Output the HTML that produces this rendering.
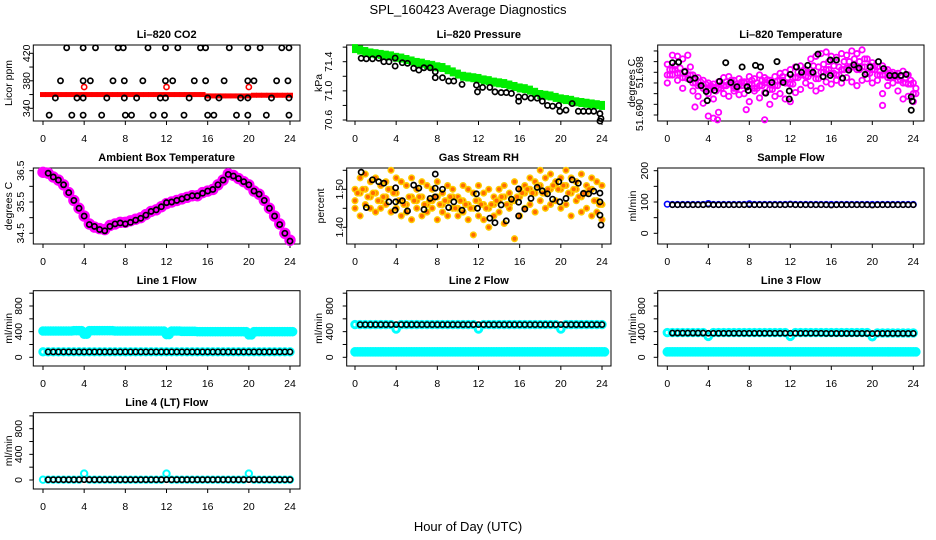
<!DOCTYPE html>
<html><head><meta charset="utf-8"><style>
html,body{margin:0;padding:0;background:#fff;}
svg{display:block;font-family:"Liberation Sans",Arial,sans-serif;}
.t{font-size:11px;font-weight:bold;text-anchor:middle;}
.tk{font-size:10.5px;text-anchor:middle;}
</style></head><body>
<svg id="chart" width="936" height="540" viewBox="0 0 936 540">
<rect x="0" y="0" width="936" height="540" fill="#fff"/>
<text x="468" y="14" font-size="13" text-anchor="middle">SPL_160423  Average Diagnostics</text>
<text x="468" y="531" font-size="13" text-anchor="middle">Hour of Day (UTC)</text>
</svg>
<script>
const hourTicks=[0,4,8,12,16,20,24];
const halfHours=[0,0.5,1,1.5,2,2.5,3,3.5,4,4.5,5,5.5,6,6.5,7,7.5,8,8.5,9,9.5,10,10.5,11,11.5,12,12.5,13,13.5,14,14.5,15,15.5,16,16.5,17,17.5,18,18.5,19,19.5,20,20.5,21,21.5,22,22.5,23,23.5,24];

// CO2
const co2Ticks=[340,360,380,400,420];
const co2Labels=["340","","380","","420"];
const co2RedVals=[360,360,360,360,360,360,360,360,360,360,360,360,360,360,360,360,360,360,360,360,360,360,360,360,360,360,360,360,360,360,360,360,358,358,358,358,358,358,358,358,358,359,359,359,359,359,359,359,359];
const co2RedOutHours=[4,12,20];
const co2RedOutVals=[371,371,371];
const co2BlackHours=[2.3,3.9,5.1,7.3,7.8,10.2,11.9,13.1,15.3,15.8,18.1,19.9,21.1,23.2,23.9,1.7,3.9,4.6,6.8,7.9,9.7,11.9,12.6,14.7,15.8,17.6,19.9,20.5,22.7,23.8,1.2,3.3,3.9,6.2,7.9,9.1,11.4,11.9,14.2,16.0,17.1,19.2,19.9,22.2,23.9,0.6,2.8,3.9,5.7,8.0,8.6,10.7,11.8,13.7,16.0,16.6,18.8,19.9,21.7,23.9];
const co2BlackVals=[428,428,428,428,428,428,428,428,428,428,428,428,428,428,428,380,380,380,380,380,380,380,380,380,380,380,380,380,380,380,355,355,355,355,355,355,355,355,355,355,355,355,355,355,355,330,330,330,330,330,330,330,330,330,330,330,330,330,330,330];

// Pressure
const presTicks=[70.6,70.8,71.0,71.2,71.4,71.6];
const presLabels=["70.6","","71.0","","71.4",""];
const presGreenVals=[71.58,71.56,71.54,71.52,71.51,71.50,71.49,71.48,71.46,71.45,71.43,71.41,71.39,71.38,71.36,71.35,71.33,71.32,71.29,71.26,71.23,71.20,71.19,71.18,71.17,71.15,71.14,71.12,71.11,71.10,71.08,71.06,71.04,71.03,71.01,70.98,70.95,70.94,70.93,70.91,70.89,70.88,70.87,70.85,70.84,70.83,70.82,70.81,70.80];
const presBlackHours=[0.6,1.1,1.7,2.3,2.8,3.3,3.9,3.9,4.6,5.1,5.7,6.2,6.7,7.3,7.8,7.8,8.5,9.1,9.6,10.4,11.8,11.9,12.4,13.1,13.6,14.2,14.7,15.2,15.9,15.9,16.5,17.1,17.7,18.2,18.7,19.2,19.8,19.9,20.5,21.1,21.7,22.2,22.7,23.2,23.8,23.9,23.8];
const presBlackVals=[71.447,71.44,71.44,71.447,71.40,71.40,71.45,71.34,71.386,71.378,71.31,71.285,71.317,71.317,71.262,71.18,71.18,71.134,71.134,71.088,71.079,70.986,71.047,71.047,70.986,70.976,70.976,70.964,70.917,70.858,70.917,70.90,70.90,70.858,70.80,70.79,70.80,70.72,70.735,70.826,70.72,70.72,70.72,70.72,70.688,70.62,70.585];

// Li-820 temperature
const tempTicks=[51.690,51.692,51.694,51.696,51.698,51.700,51.702];
const tempLabels=["51.690","","","","51.698","",""];
const tempMagA=[51.6995,51.7012,51.7010,51.7005,51.7012,51.6975,51.6970,51.6965,51.6960,51.6958,51.6962,51.6970,51.6972,51.6965,51.6968,51.6960,51.6972,51.6968,51.6975,51.6970,51.6965,51.6972,51.6978,51.6980,51.6985,51.6990,51.6992,51.6985,51.7005,51.7010,51.7015,51.7018,51.7010,51.7008,51.7015,51.7012,51.7020,51.7015,51.7022,51.7005,51.6998,51.6990,51.6992,51.6985,51.6980,51.6978,51.6982,51.6975,51.6960];
const tempMagB=[51.6960,51.6975,51.6965,51.6950,51.6968,51.6945,51.6935,51.6922,51.6940,51.6930,51.6905,51.6940,51.6935,51.6945,51.6938,51.6940,51.6925,51.6945,51.6932,51.6942,51.6920,51.6935,51.6940,51.6930,51.6925,51.6942,51.6948,51.6960,51.6955,51.6945,51.6950,51.6962,51.6958,51.6965,51.6960,51.6970,51.6962,51.6955,51.6965,51.6968,51.6960,51.6965,51.6940,51.6955,51.6960,51.6945,51.6930,51.6935,51.6925];
const tempMagC=[51.6975,51.6985,51.6978,51.6970,51.6975,51.6960,51.6955,51.6950,51.6948,51.6952,51.6950,51.6955,51.6958,51.6950,51.6955,51.6962,51.6958,51.6950,51.6955,51.6960,51.6948,51.6955,51.6965,51.6960,51.6958,51.6970,51.6975,51.6972,51.6978,51.6968,51.6980,51.6985,51.6978,51.6975,51.6985,51.6988,51.6990,51.6985,51.6990,51.6978,51.6985,51.6975,51.6975,51.6970,51.6972,51.6965,51.6960,51.6958,51.6940];
const tempMagD=[51.6985,51.6992,51.6988,51.6982,51.6990,51.6968,51.6962,51.6958,51.6955,51.6945,51.6956,51.6962,51.6965,51.6958,51.6962,51.6952,51.6965,51.6960,51.6965,51.6966,51.6956,51.6964,51.6972,51.6970,51.6970,51.6980,51.6983,51.6980,51.6992,51.6990,51.6995,51.7000,51.6992,51.6990,51.7000,51.7000,51.7005,51.7000,51.7005,51.6992,51.6992,51.6982,51.6984,51.6978,51.6976,51.6972,51.6970,51.6965,51.6950];
const tempOutHours=[2.7,4.0,4.5,4.9,9.5,7.7,21.0];
const tempOutVals=[51.6915,51.6898,51.6894,51.6891,51.6891,51.6910,51.6918];
const tempBlackHours=[0.5,1.1,1.7,2.2,2.7,3.3,3.8,3.9,4.6,5.1,5.7,6.2,6.8,7.3,7.8,7.9,8.6,9.1,9.6,10.2,10.7,11.3,11.9,11.9,12.0,12.6,13.1,13.7,14.2,14.7,15.2,15.9,15.9,16.5,17.1,17.7,18.2,18.7,19.3,19.8,20.6,21.1,21.7,22.2,22.8,23.3,23.8,23.9,23.8];
const tempBlackVals=[51.6998,51.6999,51.6981,51.6966,51.6969,51.6955,51.6944,51.6927,51.6946,51.6963,51.6998,51.6961,51.6953,51.6990,51.6953,51.6946,51.6993,51.6990,51.6941,51.6961,51.7000,51.6961,51.6945,51.6930,51.6976,51.6990,51.6980,51.6993,51.6980,51.7014,51.6972,51.7003,51.6974,51.7003,51.6969,51.6984,51.6994,51.6988,51.6976,51.6990,51.7000,51.6987,51.6974,51.6974,51.6974,51.6976,51.6934,51.6926,51.6909];

// Ambient box temperature
const ambTicks=[34.5,35.0,35.5,36.0,36.5];
const ambLabels=["34.5","","35.5","","36.5"];
const ambMagVals=[36.45,36.42,36.30,36.20,36.05,35.80,35.55,35.30,35.05,34.80,34.70,34.65,34.62,34.75,34.80,34.85,34.85,34.90,34.95,35.00,35.10,35.20,35.25,35.35,35.45,35.50,35.55,35.60,35.65,35.70,35.70,35.80,35.85,35.90,36.05,36.20,36.40,36.35,36.25,36.15,36.05,35.85,35.75,35.55,35.30,35.05,34.80,34.50,34.28];
const ambBlackVals=[36.42,36.30,36.20,36.05,35.80,35.55,35.30,35.05,34.78,34.72,34.62,34.58,34.72,34.80,34.83,34.80,34.85,34.92,34.98,35.08,35.20,35.25,35.35,35.48,35.50,35.55,35.60,35.65,35.70,35.70,35.78,35.85,35.90,36.05,36.20,36.38,36.33,36.25,36.15,36.05,35.85,35.75,35.55,35.30,35.05,34.78,34.50,34.25];

// Gas stream RH
const rhTicks=[1.40,1.45,1.50,1.55];
const rhLabels=["1.40","","1.50",""];
const rhA=[1.50,1.53,1.54,1.52,1.53,1.51,1.52,1.55,1.53,1.52,1.51,1.53,1.50,1.52,1.51,1.50,1.52,1.49,1.51,1.50,1.48,1.51,1.50,1.49,1.51,1.49,1.50,1.48,1.50,1.51,1.49,1.52,1.50,1.51,1.53,1.52,1.55,1.53,1.54,1.52,1.53,1.55,1.53,1.52,1.54,1.51,1.53,1.52,1.51];
const rhB=[1.47,1.49,1.50,1.48,1.49,1.47,1.48,1.50,1.49,1.47,1.46,1.48,1.47,1.48,1.46,1.47,1.48,1.46,1.47,1.48,1.45,1.47,1.46,1.45,1.47,1.46,1.45,1.46,1.47,1.48,1.46,1.47,1.48,1.49,1.50,1.49,1.51,1.49,1.50,1.51,1.50,1.51,1.49,1.50,1.48,1.49,1.50,1.47,1.46];
const rhC=[1.45,1.43,1.46,1.45,1.44,1.45,1.46,1.44,1.45,1.43,1.44,1.42,1.45,1.43,1.44,1.45,1.42,1.44,1.43,1.45,1.43,1.44,1.42,1.38,1.43,1.42,1.40,1.43,1.44,1.41,1.45,1.37,1.43,1.45,1.46,1.44,1.47,1.45,1.46,1.47,1.45,1.46,1.43,1.47,1.44,1.45,1.43,1.44,1.42];
const rhBlackHours=[0.6,1.1,1.7,2.3,2.8,3.3,3.9,3.95,3.95,4.6,5.1,5.7,6.2,6.7,7.3,7.8,7.8,7.8,8.5,9.1,9.6,10.4,11.8,11.9,13.1,13.6,14.2,14.7,15.2,15.9,15.9,15.9,16.5,17.1,17.7,18.2,18.7,19.2,19.8,19.9,20.5,21.1,21.7,22.2,22.7,23.2,23.8,23.8,23.8,23.9];
const rhBlackVals=[1.545,1.452,1.525,1.520,1.516,1.467,1.445,1.504,1.467,1.470,1.443,1.511,1.503,1.447,1.476,1.480,1.540,1.503,1.500,1.452,1.467,1.445,1.488,1.450,1.424,1.412,1.459,1.417,1.474,1.466,1.501,1.430,1.448,1.476,1.505,1.496,1.488,1.474,1.520,1.467,1.476,1.525,1.516,1.489,1.488,1.495,1.490,1.467,1.432,1.406];

// Sample flow
const sfTicks=[0,50,100,150,200];
const sfLabels=["0","","100","","200"];
const sfBlueVals=[93,92,92,92,92,92,92,92,95,92,92,92,92,92,92,92,94,92,92,92,92,92,92,92,93,92,92,92,92,92,92,92,92,92,92,92,92,92,92,92,92,92,92,92,92,92,92,92,92];
const sfBlackVals=[91,91,91,91,91,91,91,92,91,91,91,91,91,91,91,91,91,91,91,91,91,91,91,92,91,91,91,91,91,91,91,90,91,91,91,91,91,91,91,90,91,91,91,91,91,91,91,91];

// Line flows
const flowTicks=[0,200,400,600,800,1000];
const flowLabels=["0","","400","","800",""];
const l1CyanHigh=[410,410,410,410,410,410,415,415,360,415,415,415,415,415,410,410,410,410,410,410,410,410,410,410,355,410,410,405,405,405,400,400,400,400,400,400,400,400,400,400,350,400,400,400,400,400,400,400,400];
const l1CyanLow=[85,85,85,85,85,85,85,85,85,85,85,85,85,85,85,85,85,85,85,85,85,85,85,85,85,85,85,85,85,85,85,85,85,85,85,85,85,85,85,85,85,85,85,85,85,85,85,85,85];
const l1Black=[85,85,85,85,85,85,85,85,85,85,85,85,85,85,85,85,85,85,85,85,85,85,85,85,85,85,85,85,85,85,85,85,85,85,85,85,85,85,85,85,85,85,85,85,85,85,85,85];
const l2CyanHigh=[510,510,510,510,510,510,510,510,440,510,510,510,510,510,510,510,510,510,510,510,510,510,510,510,440,510,510,510,510,510,510,510,510,510,510,510,510,510,510,510,440,510,510,510,510,510,510,510,510];
const l2CyanLow=[85,85,85,85,85,85,85,85,85,85,85,85,85,85,85,85,85,85,85,85,85,85,85,85,85,85,85,85,85,85,85,85,85,85,85,85,85,85,85,85,85,85,85,85,85,85,85,85,85];
const l2Black=[510,510,510,510,510,510,510,510,510,510,510,510,510,510,510,510,510,510,510,510,510,510,510,510,510,510,510,510,510,510,510,510,510,510,510,510,510,510,510,510,510,510,510,510,510,510,510,510];
const l3CyanHigh=[385,385,385,385,385,385,385,385,325,385,385,385,385,385,385,385,385,385,385,385,385,385,385,385,325,385,385,385,385,385,385,385,385,385,385,385,385,385,385,385,320,380,380,380,380,380,380,380,380];
const l3CyanLow=[85,85,85,85,85,85,85,85,85,85,85,85,85,85,85,85,85,85,85,85,85,85,85,85,85,85,85,85,85,85,85,85,85,85,85,85,85,85,85,85,85,85,85,85,85,85,85,85,85];
const l3Black=[378,378,378,378,378,378,378,375,375,375,375,375,375,375,375,375,375,375,375,375,375,375,375,375,375,375,375,375,375,375,372,372,372,372,372,372,372,372,372,370,372,372,372,372,372,372,372,372];
const l4Cyan=[5,5,5,5,5,5,5,5,100,5,5,5,5,5,5,5,5,5,5,5,5,5,5,5,100,5,5,5,5,5,5,5,5,5,5,5,5,5,5,5,100,5,5,5,5,5,5,5,5];
const l4Black=[5,5,5,5,5,5,5,5,5,5,5,5,5,5,5,5,5,5,5,5,5,5,5,5,5,5,5,5,5,5,5,5,5,5,5,5,5,5,5,5,5,5,5,5,5,5,5,5];

const NS='http://www.w3.org/2000/svg';
const svg=document.getElementById('chart');
function mk(tag,attrs,parent){const el=document.createElementNS(NS,tag);for(const k in attrs)el.setAttribute(k,attrs[k]);(parent||svg).appendChild(el);return el;}

const cols=[{l:33.3,r:300,x0:43,x24:290},{l:346.7,r:611,x0:355,x24:602},{l:657.7,r:924,x0:667.3,x24:913.3}];
const rows=[{t:45,b:121,title:34,lab:138},{t:168,b:244,title:157,lab:261},{t:290.7,b:366,title:280,lab:383},{t:412.7,b:489,title:402,lab:506}];

function panel(name,title,col,row,v1,p1,v2,p2,ticks,labels,yTitle,labBase,titleBase){
  const c=cols[col],r=rows[row];
  const g=mk('g',{});
  
  
  const P={g:g,x:h=>c.x0+(c.x24-c.x0)*h/24,y:v=>p1+(v-v1)*(p2-p1)/(v2-v1)};
  const tt=mk('text',{x:(c.l+c.r)/2,y:r.title+4,class:'t'},g);tt.textContent=title;
  
  
  const box=mk('rect',{x:c.l,y:r.t,width:c.r-c.l,height:r.b-r.t,fill:'none',stroke:'#000','stroke-width':1},g);
  
  
  const xa=mk('g',{},g);
  
  
  mk('line',{x1:P.x(hourTicks[0]),x2:P.x(hourTicks[hourTicks.length-1]),y1:r.b,y2:r.b,stroke:'#000'},xa);
  hourTicks.forEach(h=>{const x=P.x(h);mk('line',{x1:x,x2:x,y1:r.b,y2:r.b+4,stroke:'#000'},xa);
    const t=mk('text',{x:x,y:r.lab+4,class:'tk'},xa);t.textContent=String(h);
    
    });
  const ya=mk('g',{},g);
  
  
  mk('line',{x1:c.l,x2:c.l,y1:P.y(ticks[0]),y2:P.y(ticks[ticks.length-1]),stroke:'#000'},ya);
  ticks.forEach((v,i)=>{const y=P.y(v);mk('line',{x1:c.l-4,x2:c.l,y1:y,y2:y,stroke:'#000'},ya);
    if(labels[i]){const t=mk('text',{x:labBase,y:y,class:'tk',transform:'rotate(-90 '+labBase+' '+y+')'},ya);t.textContent=labels[i];
    
    }});
  const cy=(r.t+r.b)/2;
  const yt=mk('text',{x:titleBase,y:cy,class:'tk',transform:'rotate(-90 '+titleBase+' '+cy+')'},g);yt.textContent=yTitle;
  
  
  return P;
}
function pts(P,hours,vals,color,r,sw,fill,name){
  const g=mk('g',{},P.g);
  
  
  vals.forEach((v,i)=>{const el=mk('circle',{cx:P.x(hours[i]),cy:P.y(v),r:r,fill:fill||'none',stroke:color,'stroke-width':sw},g);
    
    });
}
function rects(P,hours,vals,color,w,h,name){
  const g=mk('g',{},P.g);
  
  
  vals.forEach((v,i)=>{const el=mk('rect',{x:P.x(hours[i])-w/2,y:P.y(v)-h/2,width:w,height:h,fill:color},g);
    
    });
}
const bh=halfHours.slice(1);
const qh=halfHours.map(h=>h+0.25);

let P;
P=panel('co2','Li\u2013820 CO2',0,0,420,53.3,340,108.3,co2Ticks,co2Labels,'Licor ppm',30,12);
rects(P,halfHours,co2RedVals,'#ff0000',6,5,'co2-red-series');
pts(P,co2RedOutHours,co2RedOutVals,'#ff0000',2.6,1.6,null,'co2-red-outliers');
pts(P,co2BlackHours,co2BlackVals,'#000',2.6,1.7,null,'co2-black-series');

P=panel('pressure','Li\u2013820 Pressure',1,0,71.4,61.7,70.6,120,presTicks,presLabels,'kPa',332,322);
rects(P,halfHours,presGreenVals,'#00ee00',6,9,'pressure-green-series');
pts(P,presBlackHours,presBlackVals,'#000',2.6,1.7,null,'pressure-black-series');

P=panel('li820-temp','Li\u2013820 Temperature',2,0,51.690,115,51.698,72.3,tempTicks,tempLabels,'degrees C',643,635);
pts(P,halfHours,tempMagA,'#ff00ff',2.7,1.8,null,'temp-magenta-upper');
pts(P,halfHours,tempMagB,'#ff00ff',2.7,1.8,null,'temp-magenta-lower');
pts(P,halfHours,tempMagC,'#ff00ff',2.7,1.8,null,'temp-magenta-mid');
pts(P,qh,tempMagD,'#ff00ff',2.7,1.8,null,'temp-magenta-mid2');
pts(P,qh,tempMagC,'#ff00ff',2.7,1.8,null,'temp-magenta-mid3');
pts(P,tempOutHours,tempOutVals,'#ff00ff',2.7,1.8,null,'temp-magenta-outliers');
pts(P,tempBlackHours,tempBlackVals,'#000',2.6,1.8,null,'temp-black-series');

P=panel('ambient','Ambient Box Temperature',0,1,36.5,170.7,34.5,233.3,ambTicks,ambLabels,'degrees C',24,12);
pts(P,halfHours,ambMagVals,'#ff00ff',3.8,3.8,'#ff00ff','ambient-magenta-series');
pts(P,bh,ambBlackVals,'#000',2.6,1.7,null,'ambient-black-series');

P=panel('rh','Gas Stream RH',1,1,1.50,189.3,1.40,227.3,rhTicks,rhLabels,'percent',343,324);
pts(P,halfHours,rhA,'#ffcc00',2.8,1.5,'#ff6a00','rh-orange-upper');
pts(P,halfHours,rhB,'#ffcc00',2.8,1.5,'#ff6a00','rh-orange-mid');
pts(P,halfHours,rhC,'#ffcc00',2.8,1.5,'#ff6a00','rh-orange-lower');
pts(P,bh.map(h=>h-0.25),rhB.slice(1),'#ffcc00',2.8,1.5,'#ff6a00','rh-orange-fill');
pts(P,rhBlackHours,rhBlackVals,'#000',2.6,1.7,null,'rh-black-series');

P=panel('sample-flow','Sample Flow',2,1,200,170.7,0,233.3,sfTicks,sfLabels,'ml/min',648,636);
pts(P,halfHours,sfBlueVals,'#0000ff',2.8,1.6,null,'sample-flow-blue-series');
pts(P,bh,sfBlackVals,'#000',2.5,1.6,null,'sample-flow-black-series');

P=panel('line1','Line 1 Flow',0,2,0,357.3,800,306,flowTicks,flowLabels,'ml/min',22,12);
pts(P,halfHours,l1CyanHigh,'#00ffff',3.2,3.2,'#00ffff','line1-cyan-high');
pts(P,qh,l1CyanHigh,'#00ffff',3.2,3.2,'#00ffff','line1-cyan-high-b');
pts(P,halfHours,l1CyanLow,'#00ffff',3.2,3,null,'line1-cyan-low');
pts(P,bh,l1Black,'#000',2.6,1.6,null,'line1-black-series');

P=panel('line2','Line 2 Flow',1,2,0,357.3,800,306,flowTicks,flowLabels,'ml/min',333,322);
pts(P,halfHours,l2CyanHigh,'#00ffff',3.2,3,null,'line2-cyan-high');
pts(P,halfHours,l2CyanLow,'#00ffff',3.2,3.2,'#00ffff','line2-cyan-low');
pts(P,qh,l2CyanLow,'#00ffff',3.2,3.2,'#00ffff','line2-cyan-low-b');
pts(P,bh,l2Black,'#000',2.6,1.6,null,'line2-black-series');

P=panel('line3','Line 3 Flow',2,2,0,357.3,800,306,flowTicks,flowLabels,'ml/min',645,636);
pts(P,halfHours,l3CyanHigh,'#00ffff',3.2,3,null,'line3-cyan-high');
pts(P,halfHours,l3CyanLow,'#00ffff',3.2,3.2,'#00ffff','line3-cyan-low');
pts(P,qh,l3CyanLow,'#00ffff',3.2,3.2,'#00ffff','line3-cyan-low-b');
pts(P,bh,l3Black,'#000',2.6,1.6,null,'line3-black-series');

P=panel('line4','Line 4 (LT) Flow',0,3,0,480,800,428.7,flowTicks,flowLabels,'ml/min',22,12);
pts(P,halfHours,l4Cyan,'#00ffff',3.2,2,null,'line4-cyan-series');
pts(P,bh,l4Black,'#000',2.6,1.6,null,'line4-black-series');
</script>
</body></html>
